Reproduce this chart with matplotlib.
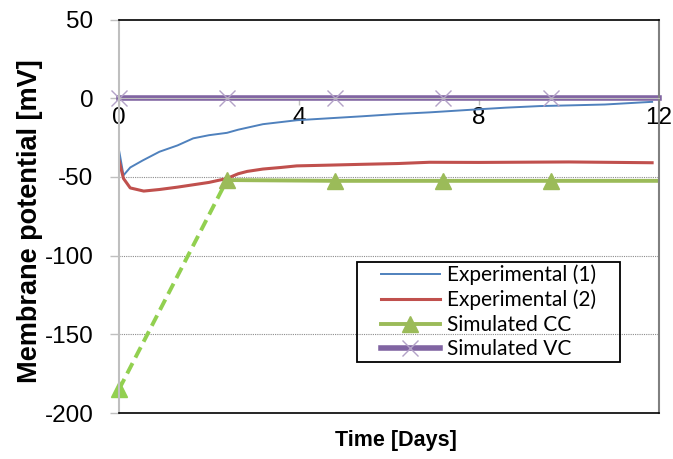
import matplotlib
matplotlib.use("Agg")
import matplotlib.pyplot as plt
from matplotlib.patches import Rectangle

# Experimental (1), blue trace
exp1_days = [0.0, 0.02, 0.1, 0.25, 0.53, 0.9, 1.3, 1.65, 2.0, 2.4, 2.65, 3.2, 3.95,
             4.7, 5.4, 6.2, 6.9, 7.9, 8.6, 9.35, 10.1, 10.8, 11.6, 11.85]
exp1_mv = [-33, -36, -49, -44, -39.5, -34, -30, -25.5, -23.5, -22, -20, -16.5, -14,
           -12.7, -11.5, -10, -9, -7.2, -6, -5, -4.5, -4, -2.7, -2.3]

# Experimental (2), red trace
exp2_days = [0.0, 0.1, 0.25, 0.55, 0.9, 1.3, 1.65, 2.0, 2.4, 2.65, 2.85, 3.2, 3.6,
             3.95, 4.7, 5.4, 6.2, 6.9, 8.0, 10.0, 11.85]
exp2_mv = [-39.5, -51, -57, -59, -58, -56.5, -55, -53.5, -51, -48, -46.5, -45, -44,
           -43, -42.5, -42, -41.5, -40.7, -40.8, -40.5, -41]

# Simulated current clamp
cc_start_days = [0.0, 2.4]
cc_start_mv = [-185, -52]
cc_days = [2.4, 4.8, 7.2, 9.6, 12.0]
cc_mv = [-52, -52.5, -52.5, -52.5, -52.5]

# Simulated voltage clamp
vc_days = [0.0, 2.4, 4.8, 7.2, 9.6, 12.0]
vc_mv = [0, 0, 0, 0, 0, 0]

x_ticks = [0, 4, 8, 12]
y_ticks = [-200, -150, -100, -50, 0, 50]

plt.rcParams['axes.unicode_minus'] = False
plt.rcParams['font.family'] = ['Liberation Sans', 'DejaVu Sans']

fig = plt.figure(figsize=(6.73, 4.59), dpi=100)
ax = fig.add_axes([0.1768, 0.1002, 0.8022, 0.8573])

ax.plot(exp1_days, exp1_mv, color='#4F81BD', lw=1.4, label='Experimental (1)')
ax.plot(exp2_days, exp2_mv, color='#C0504D', lw=2.2, label='Experimental (2)')
ax.plot(cc_start_days, cc_start_mv, color='#92D050', lw=2.8, ls=(0, (3, 1.6)),
        marker='^', markersize=12, markevery=[0], clip_on=False, label='_nolegend_')
ax.plot(cc_days, cc_mv, color='#9BBB59', lw=2.8, marker='^', markersize=12,
        markevery=[0, 1, 2, 3], label='Simulated CC')
ax.plot(vc_days, vc_mv, color='#8064A2', lw=4, marker='x', markersize=11.5,
        markeredgecolor='#B3A2C7', markeredgewidth=1.0, markevery=[0, 1, 2, 3, 4],
        clip_on=False, label='Simulated VC')

ax.set_xlim(0, 12)
ax.set_ylim(-200, 50)
ax.set_xticks(x_ticks)
ax.set_yticks(y_ticks)

# x axis crosses at 0, plot-area border drawn separately
ax.spines['bottom'].set_position(('data', 0))
ax.spines['bottom'].set_color('#BFBFBF')
ax.spines['left'].set_color('#BFBFBF')
ax.spines['left'].set_linewidth(1.5)
ax.spines['right'].set_color('#808080')
ax.spines['right'].set_linewidth(1.5)
ax.spines['top'].set_color('black')
ax.spines['top'].set_linewidth(1.2)
ax.axhline(-200, color='black', lw=1.2, clip_on=False, zorder=5)

ax.tick_params(axis='x', direction='out', length=5, width=1, color='#BFBFBF',
               pad=1, labelsize=17.5)
ax.tick_params(axis='y', direction='out', length=6.5, width=1, color='#BFBFBF',
               pad=12, labelsize=17.5)

for y in [-150, -100, -50]:
    ax.axhline(y, color='#8C8C8C', lw=0.8, ls=(0, (1, 1)), zorder=0)

ax.set_xlabel('Time [Days]', fontsize=15.5, fontweight='bold', va='center')
ax.xaxis.set_label_coords(0.513, -0.0686)
ax.set_ylabel('Membrane potential [mV]', fontsize=19.5, fontweight='bold', va='center')
ax.yaxis.set_label_coords(-0.165, 0.487)

# legend entries centred in a black box
leg = ax.legend(loc='center', bbox_to_anchor=(0.684, 0.2567), frameon=False,
                prop={'family': 'Lato', 'size': 15}, handlelength=2.84,
                handletextpad=0.34, borderpad=0, labelspacing=0.22, numpoints=1,
                borderaxespad=0)
ax.add_patch(Rectangle((0.4407, 0.1296), 0.487, 0.2541, transform=ax.transAxes,
                       fill=False, edgecolor='black', lw=1.3, zorder=6))

fig.savefig('out.png', dpi=100)
